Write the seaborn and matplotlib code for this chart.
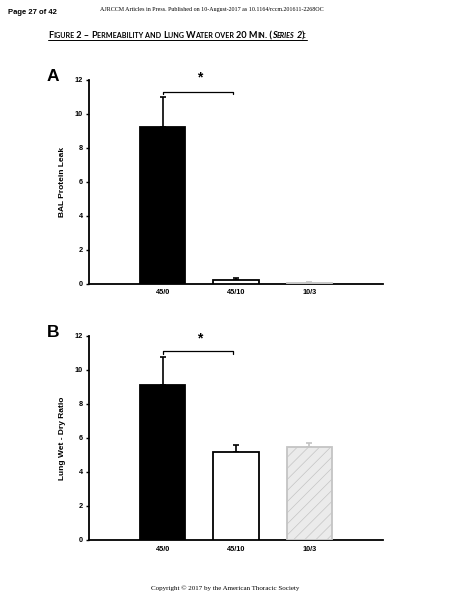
import matplotlib

matplotlib.use("Agg")

import matplotlib.pyplot as plt
from matplotlib.lines import Line2D
import pandas as pd
import seaborn as sns

# values
groups = ["45/0", "45/10", "10/3"]
protein_leak = [9.2, 0.24, 0.05]
protein_leak_sem = [1.8, 0.09, 0.03]
wet_dry = [9.1, 5.2, 5.45]
wet_dry_sem = [1.68, 0.4, 0.28]
y_ticks = [0, 2, 4, 6, 8, 10, 12]

bar_colors = ["black", "white", "#ebebeb"]
edge_colors = ["black", "black", "#c4c4c4"]
hatches = [None, None, "///"]

sns.set_theme(style="ticks")
plt.rcParams["font.family"] = ["Liberation Sans", "DejaVu Sans"]
plt.rcParams.update({"text.color": "black", "axes.labelcolor": "black",
                     "xtick.color": "black", "ytick.color": "black",
                     "hatch.linewidth": 0.5})

W, H = 450, 600
fig = plt.figure(figsize=(4.5, 6), dpi=100)


def px(x, y):
    return x / W, 1 - y / H


def bar_panel(ax, values, sems, ylabel, letter, bracket_y, star_y):
    df = pd.DataFrame({"group": groups, "value": values})
    sns.barplot(data=df, x="group", y="value", hue="group", palette=bar_colors,
                width=0.62, errorbar=None, legend=False, ax=ax, zorder=3)
    for patch, ec, hatch in zip(ax.patches, edge_colors, hatches):
        patch.set_edgecolor(ec)
        patch.set_linewidth(1.3)
        if hatch:
            patch.set_hatch(hatch)
    for i, (v, s) in enumerate(zip(values, sems)):
        ax.errorbar(i, v, yerr=[[0], [s]], fmt="none", ecolor=edge_colors[i],
                    elinewidth=1.2, capsize=2.2, capthick=1.2, zorder=2)
    # significance bracket 45/0 vs 45/10
    ax.plot([0, 0, 0.96, 0.96], [bracket_y - 0.15, bracket_y, bracket_y, bracket_y - 0.15],
            color="black", lw=0.9, clip_on=False)
    ax.text(0.5, star_y, "*", ha="center", va="center", fontsize=10, fontweight="bold")
    ax.set_xlim(-1, 3)
    ax.set_ylim(0, 12)
    ax.set_yticks(y_ticks)
    ax.set_xlabel("")
    ax.set_ylabel(ylabel, fontsize=6, fontweight="bold", labelpad=6)
    ax.tick_params(axis="y", labelsize=5.3, length=2.5, width=1, pad=2, direction="out")
    ax.tick_params(axis="x", labelsize=5.3, length=0, pad=4)
    for lab in ax.get_xticklabels() + ax.get_yticklabels():
        lab.set_fontweight("bold")
    sns.despine(ax=ax)
    for sp in ("left", "bottom"):
        ax.spines[sp].set_linewidth(1.3)
        ax.spines[sp].set_color("black")
    ax.text(-0.122, 1.015, letter, transform=ax.transAxes, fontsize=12.5,
            fontweight="bold", ha="center", va="center")


ax_a = fig.add_axes([0.198, 0.527, 0.653, 0.34])
bar_panel(ax_a, protein_leak, protein_leak_sem, "BAL Protein Leak", "A", 11.3, 12.15)

ax_b = fig.add_axes([0.198, 0.10, 0.653, 0.34])
bar_panel(ax_b, wet_dry, wet_dry_sem, "Lung Wet - Dry Ratio", "B", 11.1, 11.85)

# page header / footer
fig.text(*px(8, 13), "Page 27 of 42", fontsize=5.5, fontweight="bold", va="center")
fig.text(*px(100, 9), "AJRCCM Articles in Press. Published on 10-August-2017 as 10.1164/rccm.201611-2268OC",
         fontsize=4.3, family=["Liberation Serif", "DejaVu Serif"], va="center")
fig.text(*px(225, 588), "Copyright \u00a9 2017 by the American Thoracic Society",
         fontsize=5, family=["Liberation Serif", "DejaVu Serif"], ha="center", va="center")

# small-caps, underlined figure title
big, small = 6.6, 5.1
title_chunks = [
    ("F", big, "normal"), ("IGURE", small, "normal"), (" 2 \u2013 ", big, "normal"),
    ("P", big, "normal"), ("ERMEABILITY AND ", small, "normal"),
    ("L", big, "normal"), ("UNG ", small, "normal"),
    ("W", big, "normal"), ("ATER OVER ", small, "normal"),
    ("20 M", big, "normal"), ("IN", small, "normal"), (". (", big, "normal"),
    ("S", big, "italic"), ("ERIES", small, "italic"), (" 2", big, "italic"), ("):", big, "normal"),
]
renderer = fig.canvas.get_renderer()
x0, base = 48, 38
x = x0
for s, size, style in title_chunks:
    t = fig.text(x / W, 1 - base / H, s, fontsize=size, fontweight="bold", style=style,
                 family=["Lato", "DejaVu Sans"], va="baseline")
    x += t.get_window_extent(renderer).width
fig.add_artist(Line2D([x0 / W, x / W], [1 - (base + 2) / H] * 2, color="black", lw=0.7))

fig.savefig("out.png", dpi=100)
